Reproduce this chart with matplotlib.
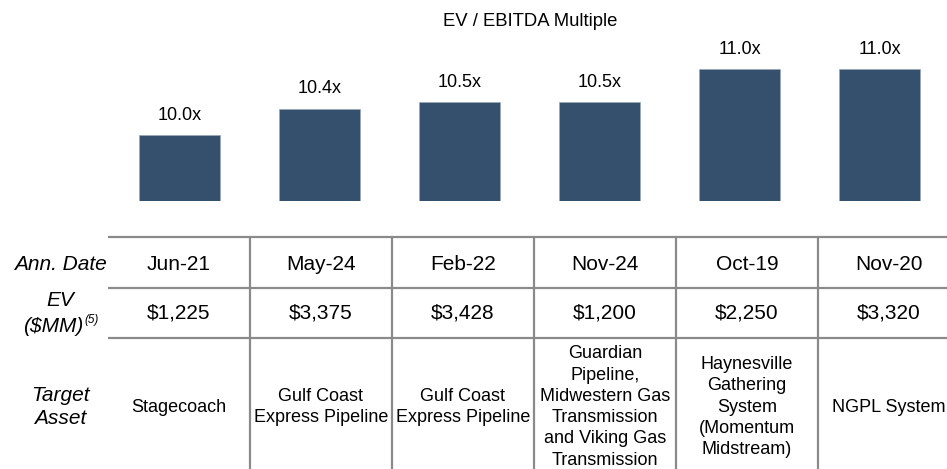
import matplotlib
matplotlib.use("Agg")
import matplotlib.pyplot as plt

matplotlib.rcParams['font.family'] = "Liberation Sans"

multiples = [10.0, 10.4, 10.5, 10.5, 11.0, 11.0]
ann_dates = ["Jun-21", "May-24", "Feb-22", "Nov-24", "Oct-19", "Nov-20"]
ev_values = ["$1,225", "$3,375", "$3,428", "$1,200", "$2,250", "$3,320"]
targets = ["Stagecoach",
           "Gulf Coast\nExpress Pipeline",
           "Gulf Coast\nExpress Pipeline",
           "Guardian\nPipeline,\nMidwestern Gas\nTransmission\nand Viking Gas\nTransmission",
           "Haynesville\nGathering\nSystem\n(Momentum\nMidstream)",
           "NGPL System"]

W, H = 947, 469
bar_color = "#34506C"
line_color = "#8A8A8A"

fig = plt.figure(figsize=(W / 100, H / 100), dpi=100)

# table drawn on a pixel canvas
tab = fig.add_axes([0, 0, 1, 1])
tab.set_xlim(0, W)
tab.set_ylim(H, 0)
tab.axis("off")

col_left, col_w = 108, 142
n = len(ann_dates)
centers = [col_left + col_w * (i + 0.5) for i in range(n)]

tab.hlines([237, 288, 338], col_left, W, color=line_color, lw=1.6)
tab.vlines([col_left + col_w * (i + 1) for i in range(n - 1)], 237, H,
           color=line_color, lw=1.6)

for i in range(n):
    tab.text(centers[i], 264, ann_dates[i], ha="center", va="center", fontsize=15)
    tab.text(centers[i], 313, ev_values[i], ha="center", va="center", fontsize=15)
    tab.text(centers[i], 407, targets[i], ha="center", va="center", fontsize=13,
             linespacing=1.33, multialignment="center")

tab.text(60, 264, "Ann. Date", ha="center", va="center", fontsize=15, style="italic")
tab.text(60, 301, "EV", ha="center", va="center", fontsize=15, style="italic")
tab.text(83, 327, "($MM)", ha="right", va="center", fontsize=15, style="italic")
tab.text(84, 320, "(5)", ha="left", va="center", fontsize=8.5, style="italic")
tab.text(60, 407, "Target\nAsset", ha="center", va="center", fontsize=15,
         style="italic", linespacing=1.3)

# bars
px_per_unit = 66
ax = fig.add_axes([109.5 / W, (H - 201) / H, 840 / W, 185 / H])
ax.set_xlim(-0.5, 5.5)
ax.set_ylim(9.0, 9.0 + 185 / px_per_unit)
bars = ax.bar(range(n), [m - 9.0 for m in multiples], bottom=9.0, width=0.58,
              color=bar_color, edgecolor="#9AA9B8", linewidth=0.5)
ax.bar_label(bars, labels=[f"{m:.1f}x" for m in multiples], padding=8, fontsize=13)
ax.axis("off")

fig.text(530 / W, 1 - 22 / H, "EV / EBITDA Multiple", ha="center", va="center",
         fontsize=13.3)

plt.savefig("out.png", dpi=100)
plt.close()
